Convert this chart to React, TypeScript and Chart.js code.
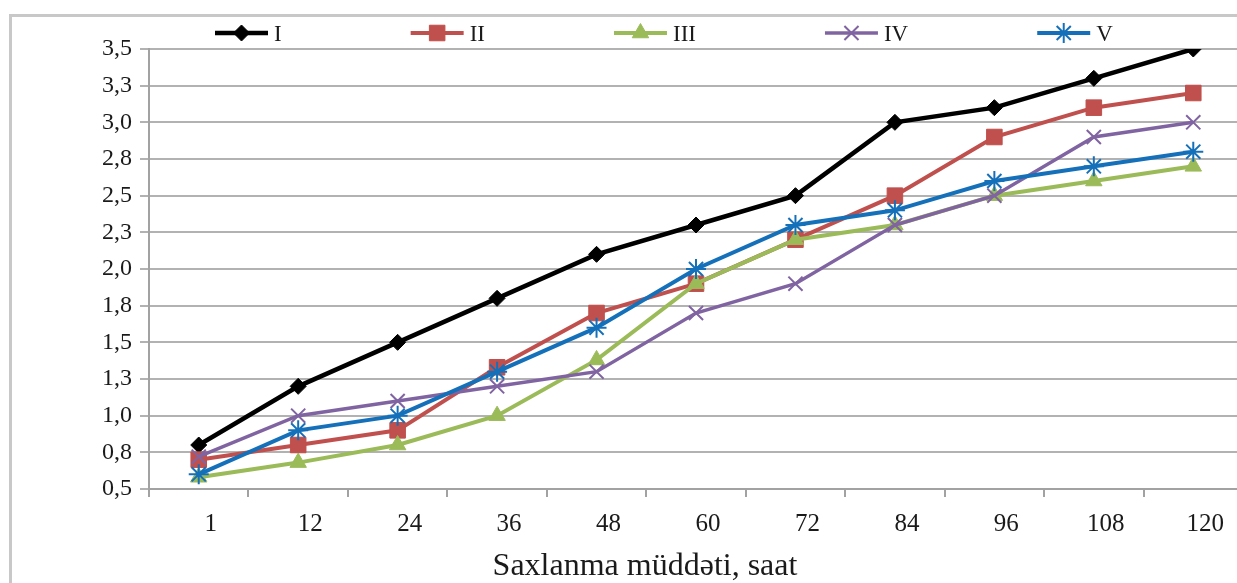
import React, { useEffect, useRef } from 'react';
import { Chart, registerables, PointElement } from 'chart.js';

Chart.register(...registerables);

// Storage time in hours (category axis)
const hours = ['1', '12', '24', '36', '48', '60', '72', '84', '96', '108', '120'];

// Measured values for the five samples
const seriesI = [0.8, 1.2, 1.5, 1.8, 2.1, 2.3, 2.5, 3.0, 3.1, 3.3, 3.5];
const seriesII = [0.7, 0.8, 0.9, 1.33, 1.7, 1.9, 2.2, 2.5, 2.9, 3.1, 3.2];
const seriesIII = [0.58, 0.68, 0.8, 1.0, 1.38, 1.9, 2.2, 2.3, 2.5, 2.6, 2.7];
const seriesIV = [0.72, 1.0, 1.1, 1.2, 1.3, 1.7, 1.9, 2.3, 2.5, 2.9, 3.0];
const seriesV = [0.6, 0.9, 1.0, 1.3, 1.6, 2.0, 2.3, 2.4, 2.6, 2.7, 2.8];

const seriesNames = ['I', 'II', 'III', 'IV', 'V'];

// Value axis ticks and their printed labels
const yTickValues = [0.5, 0.75, 1.0, 1.25, 1.5, 1.75, 2.0, 2.25, 2.5, 2.75, 3.0, 3.25, 3.5];
const yTickLabels = ['0,5', '0,8', '1,0', '1,3', '1,5', '1,8', '2,0', '2,3', '2,5', '2,8', '3,0', '3,3', '3,5'];

const xTitle = 'Saxlanma müddəti, saat';

const FONT = '"Liberation Serif", "Times New Roman", serif';
const TEXT = '#1a1a1a';
const GRID = '#b2b2b2';
const AXIS = '#a2a2a2';

// Legend drawn as a single row of line+marker samples above the plot
const legendRow = {
  id: 'legendRow',
  afterDraw(chart: any) {
    const { ctx, chartArea } = chart;
    const sampleLen = 53;
    const textGap = 6;
    const itemGap = 129;
    let x = chartArea.left + 66;
    const y = chartArea.top - 16;
    ctx.save();
    ctx.font = `23px ${FONT}`;
    ctx.textBaseline = 'middle';
    ctx.textAlign = 'left';
    chart.data.datasets.forEach((ds: any) => {
      ctx.strokeStyle = ds.borderColor;
      ctx.lineWidth = ds.borderWidth;
      ctx.beginPath();
      ctx.moveTo(x, y);
      ctx.lineTo(x + sampleLen, y);
      ctx.stroke();
      const marker = new PointElement({
        x: x + sampleLen / 2,
        y,
        options: {
          pointStyle: ds.pointStyle,
          radius: ds.pointRadius,
          borderWidth: ds.pointBorderWidth,
          borderColor: ds.pointBorderColor,
          backgroundColor: ds.pointBackgroundColor,
          rotation: 0,
        },
      } as any);
      marker.draw(ctx);
      ctx.fillStyle = TEXT;
      ctx.fillText(ds.label, x + sampleLen + textGap, y + 2);
      x += sampleLen + textGap + ctx.measureText(ds.label).width + itemGap;
    });
    ctx.restore();
  },
};

function makeSeries(
  label: string,
  data: number[],
  color: string,
  width: number,
  pointStyle: string,
  radius: number,
  pointBorderWidth: number,
  order: number
) {
  return {
    label,
    data,
    borderColor: color,
    backgroundColor: color,
    borderWidth: width,
    pointStyle,
    pointRadius: radius,
    pointHoverRadius: radius,
    pointBorderWidth,
    pointBorderColor: color,
    pointBackgroundColor: color,
    tension: 0,
    fill: false,
    order,
  };
}

export default function App() {
  const canvasRef = useRef<HTMLCanvasElement | null>(null);

  useEffect(() => {
    const canvas = canvasRef.current;
    if (!canvas) return;
    const chart = new Chart(canvas, {
      type: 'line',
      data: {
        labels: hours,
        datasets: [
          makeSeries(seriesNames[0], seriesI, '#000000', 4.5, 'rectRot', 8, 1, 4),
          makeSeries(seriesNames[1], seriesII, '#C0504D', 4, 'rect', 11, 1, 3),
          makeSeries(seriesNames[2], seriesIII, '#9BBB59', 4, 'triangle', 9.5, 1, 2),
          makeSeries(seriesNames[3], seriesIV, '#8064A2', 3.5, 'crossRot', 10, 2, 1),
          makeSeries(seriesNames[4], seriesV, '#1570BA', 4, 'star', 10, 2, 0),
        ] as any,
      },
      options: {
        responsive: false,
        animation: false,
        devicePixelRatio: 1,
        layout: { padding: { left: 47, right: 47, top: 49, bottom: 0 } },
        plugins: {
          legend: { display: false },
          tooltip: { enabled: false },
          title: {
            display: true,
            position: 'bottom',
            text: xTitle,
            color: TEXT,
            font: { family: FONT, size: 32, weight: 'normal', lineHeight: 1 },
            padding: { top: 0, bottom: 0 },
          },
        },
        scales: {
          x: {
            type: 'category',
            offset: true,
            grid: {
              display: true,
              offset: true,
              drawOnChartArea: false,
              drawTicks: true,
              tickLength: 8,
              color: AXIS,
              lineWidth: 2,
            },
            border: { display: true, color: AXIS, width: 2 },
            ticks: {
              color: TEXT,
              font: { family: FONT, size: 25 },
              padding: 12,
              labelOffset: 12,
              maxRotation: 0,
              autoSkip: false,
            },
          },
          y: {
            min: 0.5,
            max: 3.5,
            afterFit: (scale: any) => {
              scale.width = 102;
            },
            grid: {
              color: GRID,
              lineWidth: 2,
              drawTicks: true,
              tickLength: 9,
            },
            border: { display: true, color: AXIS, width: 2 },
            ticks: {
              stepSize: 0.25,
              color: TEXT,
              font: { family: FONT, size: 24 },
              padding: 8,
              callback: (value: any) => {
                const i = yTickValues.findIndex((v) => Math.abs(v - Number(value)) < 1e-6);
                return i >= 0 ? yTickLabels[i] : '';
              },
            },
          },
        },
      },
      plugins: [legendRow],
    } as any);
    return () => chart.destroy();
  }, []);

  return (
    <div
      style={{
        position: 'fixed',
        left: 0,
        top: 0,
        width: '100vw',
        height: '100vh',
        overflow: 'hidden',
        background: '#ffffff',
      }}
    >
      <div
        style={{
          position: 'absolute',
          left: 9,
          top: 14,
          width: 2000,
          height: 1000,
          borderLeft: '3px solid #c8c8c8',
          borderTop: '3px solid #c8c8c8',
        }}
      />
      <canvas
        ref={canvasRef}
        width={1290}
        height={583}
        style={{ position: 'absolute', left: 0, top: 0, width: 1290, height: 583 }}
      />
    </div>
  );
}
